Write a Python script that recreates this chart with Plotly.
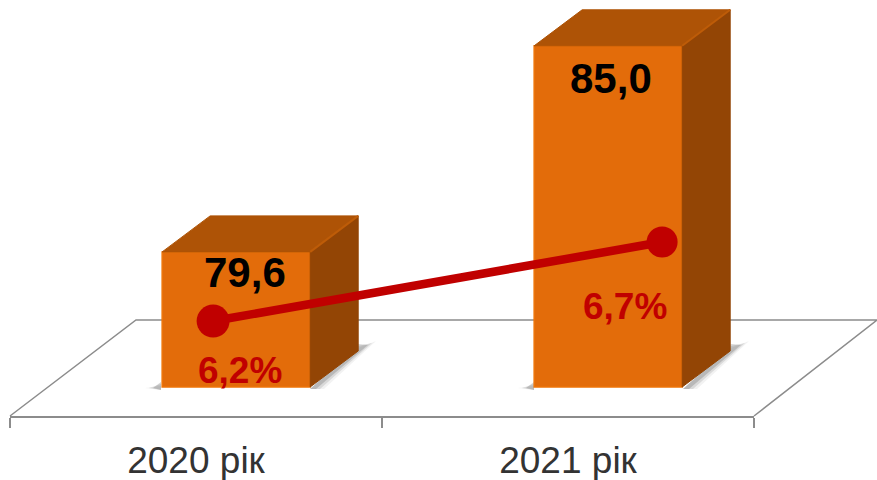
import plotly.graph_objects as go

categories = ["2020 рік", "2021 рік"]
bar_values = [79.6, 85.0]
line_values = [6.2, 6.7]

W, H = 877, 480
ML, MR, MB = 10, 123, 64

ORANGE = "#E36C0A"
ORANGE_EDGE = "#EE7408"
TOP = "#AE5306"
SIDE = "#934505"
RED = "#C00000"
GREY = "#8C8C8C"
FONT = "'Liberation Sans', Arial, sans-serif"

# value axis is cut off, the floor of the bars sits at 76.06
BASE = 76.06
Y_RANGE = [75.30, 86.20]
Y2_RANGE = [5.599, 8.232]
BAR_WIDTH = 0.398
BAR_OFFSET = -0.091
POINT_SHIFT = [0.046, 0.253]
DEPTH_PX = (48, 36)


def x_of_px(px):
    return -0.5 + (px - ML) / (W - ML - MR) * 2


def y_of_px(py):
    plot_h = H - MB
    return Y_RANGE[0] + (plot_h - py) / plot_h * (Y_RANGE[1] - Y_RANGE[0])


def paper_path(points):
    plot_w, plot_h = W - ML - MR, H - MB
    parts = [f"{(x - ML) / plot_w:.5f},{(plot_h - y) / plot_h:.5f}" for x, y in points]
    return "M" + " L".join(parts)


dx = DEPTH_PX[0] / (W - ML - MR) * 2
dy = DEPTH_PX[1] / (H - MB) * (Y_RANGE[1] - Y_RANGE[0])

fig = go.Figure()

# front faces
fig.add_trace(go.Bar(
    x=[0, 1],
    y=[v - BASE for v in bar_values],
    base=BASE,
    width=BAR_WIDTH,
    offset=BAR_OFFSET,
    marker=dict(color=ORANGE, line=dict(color=ORANGE_EDGE, width=1.5)),
    hoverinfo="skip",
    showlegend=False,
))

# side and top faces follow the bar heights
for i, v in enumerate(bar_values):
    x0 = i + BAR_OFFSET
    x1 = x0 + BAR_WIDTH
    fig.add_trace(go.Scatter(
        x=[x1, x1 + dx, x1 + dx, x1, x1],
        y=[BASE, BASE + dy, v + dy, v, BASE],
        mode="lines", fill="toself", fillcolor=SIDE,
        line=dict(color=SIDE, width=1), hoverinfo="skip", showlegend=False,
    ))
    fig.add_trace(go.Scatter(
        x=[x0, x1, x1 + dx, x0 + dx, x0],
        y=[v, v, v + dy, v + dy, v],
        mode="lines", fill="toself", fillcolor=TOP,
        line=dict(color=TOP, width=1), hoverinfo="skip", showlegend=False,
    ))
    fig.add_trace(go.Scatter(
        x=[x1, x1 + dx],
        y=[v, v + dy],
        mode="lines", line=dict(color="#BE5C08", width=2),
        hoverinfo="skip", showlegend=False,
    ))

# red share line on its own hidden axis
fig.add_trace(go.Scatter(
    x=[i + s for i, s in enumerate(POINT_SHIFT)],
    y=line_values,
    yaxis="y2",
    mode="lines+markers",
    line=dict(color=RED, width=8.5),
    marker=dict(color=RED, size=[33, 31], opacity=1, line=dict(width=0)),
    hoverinfo="skip",
    showlegend=False,
))

# floor and soft shadows, pixel placed since they are only decoration
shapes = [
    dict(type="path", path=paper_path([(10, 416), (136, 320), (877, 320), (754, 416)]),
         xref="paper", yref="paper", layer="below",
         line=dict(color=GREY, width=1.5), fillcolor="rgba(0,0,0,0)"),
]
for left in (161, 534):
    right = left + 149
    for spread, alpha in ((0, 0.22), (4, 0.14), (8, 0.07)):
        shapes.append(dict(
            type="path",
            path=paper_path([(right + 48, 344 + spread / 2), (right + 58 + spread, 345 - spread / 2),
                             (right + 6 + spread, 389), (right, 389)]) + " Z",
            xref="paper", yref="paper", layer="below",
            line=dict(width=0), fillcolor=f"rgba(70,70,70,{alpha})",
        ))
        shapes.append(dict(
            type="path",
            path=paper_path([(left, 382 + spread / 2), (left - 8 - spread, 388), (left, 390)]) + " Z",
            xref="paper", yref="paper", layer="below",
            line=dict(width=0), fillcolor=f"rgba(70,70,70,{alpha})",
        ))

value_spots = [(244.5, 272), (611, 78)]
share_spots = [(240, 370), (625, 306)]
annotations = []
for v, (px, py) in zip(bar_values, value_spots):
    annotations.append(dict(
        text=f"<b>{v:.1f}</b>".replace(".", ","), x=x_of_px(px), y=y_of_px(py),
        showarrow=False, font=dict(family=FONT, size=42, color="#000000"),
    ))
for v, (px, py) in zip(line_values, share_spots):
    annotations.append(dict(
        text=f"<b>{v:.1f}%</b>".replace(".", ","), x=x_of_px(px), y=y_of_px(py),
        showarrow=False, font=dict(family=FONT, size=37, color=RED),
    ))

fig.update_layout(
    width=W,
    height=H,
    margin=dict(l=ML, r=MR, t=0, b=MB, pad=0, autoexpand=False),
    paper_bgcolor="white",
    plot_bgcolor="rgba(0,0,0,0)",
    shapes=shapes,
    annotations=annotations,
    xaxis=dict(
        range=[-0.5, 1.5],
        tickmode="array",
        tickvals=[0, 1],
        ticktext=categories,
        ticks="",
        showgrid=False,
        zeroline=False,
        showline=True,
        linecolor=GREY,
        linewidth=1.5,
        automargin=False,
        tickfont=dict(family=FONT, size=37, color="#333333"),
        ticklabelstandoff=11,
        minor=dict(tickmode="array", tickvals=[-0.5, 0.5, 1.5], ticks="outside",
                   ticklen=10, tickcolor=GREY, tickwidth=1.5, showgrid=False),
    ),
    yaxis=dict(range=Y_RANGE, visible=False),
    yaxis2=dict(range=Y2_RANGE, visible=False, overlaying="y", side="right"),
)

fig.write_html("out.html", config=dict(displayModeBar=False),
               post_script="document.body.style.margin='0';")
